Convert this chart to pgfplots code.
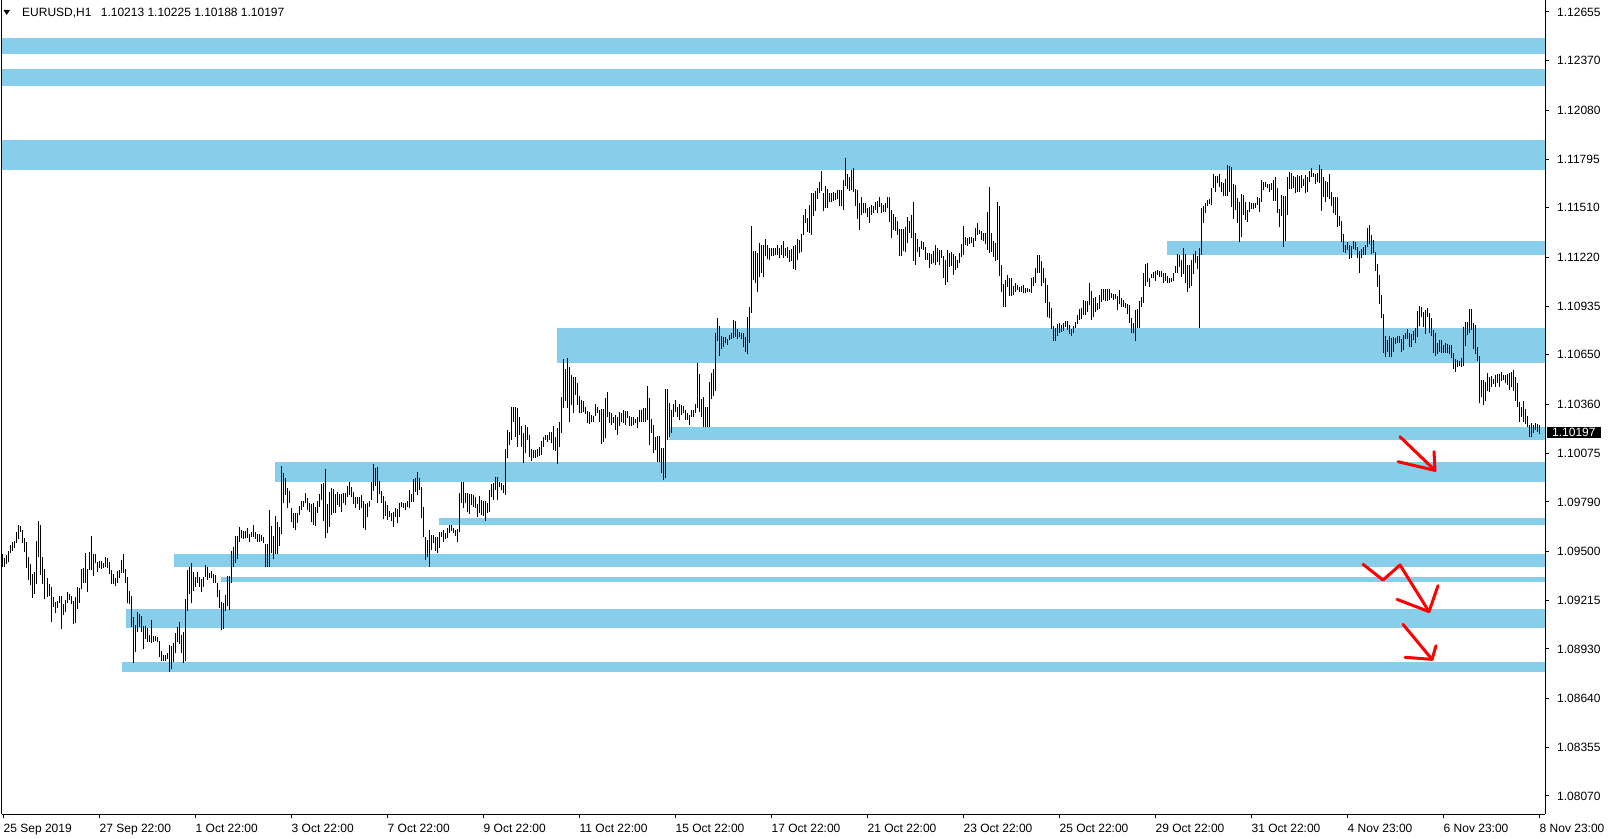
\documentclass[border=0pt]{standalone}
\usepackage{fontspec}
\setmainfont{Liberation Sans}
\usepackage{pgfplots}
\pgfplotsset{compat=1.18}
\usepackage{pgfplotstable}
\definecolor{zone}{RGB}{135,206,235}

\pgfplotstableread{
x hi lo
3 1.09485 1.09411
5 1.09460 1.09411
7 1.09479 1.09427
9 1.09503 1.09436
11 1.09538 1.09489
13 1.09557 1.09503
15 1.09563 1.09518
17 1.09616 1.09551
19 1.09655 1.09573
21 1.09649 1.09616
23 1.09625 1.09547
25 1.09577 1.09499
27 1.09557 1.09405
29 1.09469 1.09333
31 1.09427 1.09302
33 1.09366 1.09230
35 1.09382 1.09251
37 1.09561 1.09310
39 1.09678 1.09469
41 1.09655 1.09362
43 1.09469 1.09310
45 1.09399 1.09220
47 1.09347 1.09235
49 1.09310 1.09239
51 1.09294 1.09087
53 1.09235 1.09177
55 1.09204 1.09138
57 1.09212 1.09171
59 1.09241 1.09196
61 1.09241 1.09048
63 1.09193 1.09128
65 1.09216 1.09148
67 1.09263 1.09200
69 1.09251 1.09216
71 1.09241 1.09191
73 1.09212 1.09074
75 1.09235 1.09079
77 1.09294 1.09165
79 1.09288 1.09200
81 1.09399 1.09278
83 1.09405 1.09317
85 1.09493 1.09317
87 1.09399 1.09265
89 1.09495 1.09391
91 1.09590 1.09391
93 1.09483 1.09356
95 1.09485 1.09430
97 1.09440 1.09382
99 1.09446 1.09401
101 1.09446 1.09397
103 1.09434 1.09401
105 1.09469 1.09411
107 1.09460 1.09405
109 1.09436 1.09366
111 1.09391 1.09310
113 1.09368 1.09310
115 1.09347 1.09298
117 1.09386 1.09313
119 1.09391 1.09343
121 1.09450 1.09376
123 1.09485 1.09372
125 1.09395 1.09313
127 1.09352 1.09196
129 1.09271 1.09194
131 1.09241 1.09060
133 1.09118 1.08849
135 1.09070 1.08914
137 1.09144 1.09031
139 1.09134 1.09056
141 1.09122 1.09031
143 1.09066 1.08931
145 1.09066 1.08988
147 1.09050 1.08968
149 1.09011 1.08972
151 1.09099 1.08966
153 1.09005 1.08972
155 1.09007 1.08978
157 1.09001 1.08970
159 1.08976 1.08884
161 1.08918 1.08861
163 1.08894 1.08861
165 1.08894 1.08861
167 1.08904 1.08873
169 1.08953 1.08793
171 1.08947 1.08812
173 1.08964 1.08851
175 1.09025 1.08904
177 1.09056 1.08970
179 1.09085 1.08959
181 1.09009 1.08908
183 1.09029 1.08849
185 1.09220 1.08859
187 1.09391 1.09154
189 1.09411 1.09251
191 1.09430 1.09196
193 1.09382 1.09269
195 1.09352 1.09294
197 1.09378 1.09313
199 1.09352 1.09294
201 1.09337 1.09265
203 1.09352 1.09294
205 1.09421 1.09349
207 1.09411 1.09333
209 1.09376 1.09343
211 1.09388 1.09343
213 1.09368 1.09317
215 1.09364 1.09317
217 1.09313 1.09235
219 1.09274 1.09167
221 1.09202 1.09040
223 1.09196 1.09046
225 1.09245 1.09154
227 1.09356 1.09183
229 1.09356 1.09157
231 1.09505 1.09313
233 1.09524 1.09411
235 1.09590 1.09434
237 1.09592 1.09456
239 1.09641 1.09557
241 1.09625 1.09577
243 1.09622 1.09573
245 1.09622 1.09577
247 1.09639 1.09581
249 1.09602 1.09557
251 1.09612 1.09586
253 1.09653 1.09586
255 1.09616 1.09575
257 1.09600 1.09557
259 1.09600 1.09557
261 1.09596 1.09561
263 1.09586 1.09551
265 1.09544 1.09411
267 1.09544 1.09411
269 1.09742 1.09411
271 1.09651 1.09489
273 1.09592 1.09454
275 1.09707 1.09487
277 1.09674 1.09483
279 1.09641 1.09532
281 1.10000 1.09600
283 1.09957 1.09781
285 1.09928 1.09830
287 1.09873 1.09756
289 1.09854 1.09781
291 1.09752 1.09674
293 1.09723 1.09639
295 1.09727 1.09625
297 1.09727 1.09668
299 1.09766 1.09713
301 1.09797 1.09742
303 1.09795 1.09762
305 1.09844 1.09781
307 1.09811 1.09742
309 1.09785 1.09733
311 1.09778 1.09672
313 1.09785 1.09655
315 1.09758 1.09649
317 1.09797 1.09727
319 1.09836 1.09762
321 1.09895 1.09801
323 1.09902 1.09678
325 1.09984 1.09577
327 1.09778 1.09610
329 1.09850 1.09645
331 1.09869 1.09713
333 1.09863 1.09723
335 1.09836 1.09723
337 1.09850 1.09772
339 1.09836 1.09762
341 1.09836 1.09733
343 1.09840 1.09781
345 1.09844 1.09772
347 1.09883 1.09817
349 1.09906 1.09830
351 1.09879 1.09820
353 1.09850 1.09776
355 1.09820 1.09752
357 1.09820 1.09778
359 1.09820 1.09742
361 1.09830 1.09752
363 1.09795 1.09635
365 1.09778 1.09625
367 1.09781 1.09703
369 1.09795 1.09762
371 1.09904 1.09801
373 1.10012 1.09856
375 1.09986 1.09885
377 1.09996 1.09781
379 1.09912 1.09836
381 1.09854 1.09785
383 1.09824 1.09688
385 1.09795 1.09707
387 1.09772 1.09684
389 1.09739 1.09703
391 1.09727 1.09678
393 1.09733 1.09645
395 1.09752 1.09703
397 1.09746 1.09664
399 1.09785 1.09703
401 1.09791 1.09762
403 1.09781 1.09752
405 1.09785 1.09742
407 1.09795 1.09762
409 1.09859 1.09752
411 1.09836 1.09787
413 1.09922 1.09791
415 1.09932 1.09850
417 1.09967 1.09830
419 1.09932 1.09859
421 1.09879 1.09694
423 1.09762 1.09586
425 1.09586 1.09450
427 1.09567 1.09469
429 1.09625 1.09411
431 1.09594 1.09508
433 1.09596 1.09547
435 1.09583 1.09505
437 1.09586 1.09489
439 1.09612 1.09518
441 1.09616 1.09586
443 1.09625 1.09557
445 1.09610 1.09571
447 1.09635 1.09577
449 1.09655 1.09606
451 1.09655 1.09620
453 1.09635 1.09606
455 1.09625 1.09592
457 1.09629 1.09557
459 1.09840 1.09612
461 1.09904 1.09781
463 1.09906 1.09752
465 1.09844 1.09781
467 1.09840 1.09729
469 1.09836 1.09719
471 1.09836 1.09772
473 1.09830 1.09762
475 1.09820 1.09752
477 1.09778 1.09703
479 1.09824 1.09723
481 1.09801 1.09713
483 1.09795 1.09707
485 1.09795 1.09680
487 1.09781 1.09723
489 1.09859 1.09733
491 1.09895 1.09820
493 1.09898 1.09801
495 1.09937 1.09859
497 1.09934 1.09801
499 1.09908 1.09879
501 1.09898 1.09859
503 1.09887 1.09840
505 1.10099 1.09830
507 1.10210 1.10045
509 1.10201 1.10123
511 1.10347 1.10152
513 1.10347 1.10259
515 1.10347 1.10171
517 1.10337 1.10113
519 1.10288 1.10181
521 1.10234 1.10113
523 1.10191 1.10019
525 1.10240 1.10074
527 1.10226 1.10152
529 1.10181 1.10054
531 1.10099 1.10031
533 1.10093 1.10045
535 1.10093 1.10045
537 1.10097 1.10054
539 1.10113 1.10058
541 1.10146 1.10064
543 1.10168 1.10113
545 1.10181 1.10152
547 1.10181 1.10142
549 1.10197 1.10152
551 1.10201 1.10132
553 1.10234 1.10093
555 1.10171 1.10088
557 1.10220 1.10010
559 1.10259 1.10109
561 1.10405 1.10195
563 1.10626 1.10339
565 1.10567 1.10380
567 1.10630 1.10337
569 1.10577 1.10259
571 1.10532 1.10357
573 1.10522 1.10312
575 1.10519 1.10415
577 1.10487 1.10357
579 1.10409 1.10308
581 1.10386 1.10308
583 1.10382 1.10318
585 1.10347 1.10304
587 1.10324 1.10249
589 1.10318 1.10246
591 1.10298 1.10259
593 1.10292 1.10259
595 1.10363 1.10292
597 1.10347 1.10308
599 1.10327 1.10259
601 1.10333 1.10129
603 1.10331 1.10142
605 1.10396 1.10162
607 1.10433 1.10288
609 1.10318 1.10253
611 1.10312 1.10240
613 1.10288 1.10249
615 1.10298 1.10210
617 1.10288 1.10181
619 1.10318 1.10234
621 1.10312 1.10259
623 1.10327 1.10249
625 1.10324 1.10240
627 1.10324 1.10279
629 1.10292 1.10234
631 1.10288 1.10234
633 1.10288 1.10240
635 1.10275 1.10249
637 1.10288 1.10220
639 1.10327 1.10259
641 1.10327 1.10259
643 1.10337 1.10259
645 1.10337 1.10259
647 1.10468 1.10269
649 1.10396 1.10123
651 1.10275 1.10191
653 1.10240 1.10074
655 1.10171 1.10093
657 1.10175 1.10025
659 1.10175 1.10025
661 1.10103 1.09956
663 1.10107 1.09917
665 1.10450 1.09927
667 1.10448 1.10151
669 1.10366 1.10171
671 1.10327 1.10190
673 1.10362 1.10288
675 1.10385 1.10317
677 1.10346 1.10288
679 1.10362 1.10268
681 1.10356 1.10298
683 1.10350 1.10307
685 1.10327 1.10268
687 1.10311 1.10268
689 1.10298 1.10239
691 1.10327 1.10288
693 1.10327 1.10288
695 1.10362 1.10307
697 1.10604 1.10337
699 1.10538 1.10317
701 1.10391 1.10288
703 1.10405 1.10226
705 1.10346 1.10229
707 1.10346 1.10229
709 1.10493 1.10229
711 1.10541 1.10389
713 1.10567 1.10409
715 1.10779 1.10440
717 1.10863 1.10733
719 1.10820 1.10645
721 1.10762 1.10684
723 1.10752 1.10697
725 1.10756 1.10717
727 1.10740 1.10707
729 1.10766 1.10736
731 1.10779 1.10740
733 1.10853 1.10746
735 1.10850 1.10756
737 1.10801 1.10742
739 1.10785 1.10752
741 1.10779 1.10742
743 1.10775 1.10697
745 1.10756 1.10668
747 1.10873 1.10653
749 1.10931 1.10721
751 1.11403 1.10896
753 1.11257 1.11087
755 1.11257 1.11068
757 1.11243 1.11019
759 1.11306 1.11103
761 1.11292 1.11126
763 1.11292 1.11107
765 1.11325 1.11228
767 1.11292 1.11208
769 1.11273 1.11204
771 1.11273 1.11228
773 1.11277 1.11228
775 1.11273 1.11234
777 1.11292 1.11234
779 1.11277 1.11214
781 1.11292 1.11234
783 1.11318 1.11214
785 1.11273 1.11228
787 1.11282 1.11214
789 1.11263 1.11195
791 1.11267 1.11201
793 1.11288 1.11150
795 1.11292 1.11146
797 1.11325 1.11204
799 1.11321 1.11247
801 1.11357 1.11253
803 1.11468 1.11351
805 1.11501 1.11423
807 1.11448 1.11370
809 1.11526 1.11364
811 1.11594 1.11351
813 1.11598 1.11462
815 1.11608 1.11493
817 1.11628 1.11561
819 1.11663 1.11594
821 1.11727 1.11608
823 1.11598 1.11491
825 1.11637 1.11511
827 1.11618 1.11511
829 1.11598 1.11546
831 1.11594 1.11546
833 1.11604 1.11550
835 1.11598 1.11555
837 1.11614 1.11559
839 1.11614 1.11520
841 1.11614 1.11520
843 1.11672 1.11497
845 1.11799 1.11637
847 1.11708 1.11618
849 1.11692 1.11608
851 1.11731 1.11614
853 1.11741 1.11600
855 1.11618 1.11520
857 1.11614 1.11444
859 1.11536 1.11380
861 1.11575 1.11468
863 1.11536 1.11477
865 1.11540 1.11477
867 1.11507 1.11454
869 1.11516 1.11423
871 1.11526 1.11468
873 1.11520 1.11477
875 1.11546 1.11497
877 1.11552 1.11477
879 1.11575 1.11516
881 1.11536 1.11477
883 1.11526 1.11487
885 1.11536 1.11487
887 1.11575 1.11507
889 1.11575 1.11425
891 1.11497 1.11331
893 1.11474 1.11380
895 1.11458 1.11376
897 1.11435 1.11351
899 1.11384 1.11228
901 1.11384 1.11228
903 1.11386 1.11257
905 1.11396 1.11253
907 1.11458 1.11302
909 1.11435 1.11364
911 1.11468 1.11331
913 1.11546 1.11199
915 1.11364 1.11175
917 1.11325 1.11253
919 1.11282 1.11224
921 1.11318 1.11267
923 1.11312 1.11263
925 1.11282 1.11204
927 1.11247 1.11204
929 1.11247 1.11156
931 1.11240 1.11179
933 1.11259 1.11185
935 1.11292 1.11175
937 1.11273 1.11195
939 1.11263 1.11175
941 1.11263 1.11214
943 1.11228 1.11101
945 1.11204 1.11058
947 1.11263 1.11074
949 1.11247 1.11165
951 1.11253 1.11171
953 1.11238 1.11117
955 1.11228 1.11146
957 1.11204 1.11156
959 1.11243 1.11185
961 1.11296 1.11224
963 1.11403 1.11234
965 1.11341 1.11292
967 1.11331 1.11286
969 1.11337 1.11298
971 1.11341 1.11302
973 1.11331 1.11282
975 1.11390 1.11318
977 1.11423 1.11351
979 1.11380 1.11357
981 1.11374 1.11321
983 1.11360 1.11318
985 1.11364 1.11296
987 1.11487 1.11263
989 1.11633 1.11243
991 1.11360 1.11253
993 1.11318 1.11224
995 1.11302 1.11201
997 1.11546 1.11204
999 1.11520 1.11111
1001 1.11175 1.11019
1003 1.11064 1.10931
1005 1.11087 1.10931
1007 1.11117 1.11048
1009 1.11101 1.10996
1011 1.11097 1.10996
1013 1.11052 1.11000
1015 1.11072 1.11019
1017 1.11058 1.11029
1019 1.11048 1.11019
1021 1.11052 1.11015
1023 1.11058 1.11009
1025 1.11043 1.11009
1027 1.11043 1.11019
1029 1.11033 1.11015
1031 1.11101 1.11013
1033 1.11107 1.11052
1035 1.11156 1.11068
1037 1.11234 1.11126
1039 1.11234 1.11130
1041 1.11199 1.11052
1043 1.11156 1.11068
1045 1.11097 1.10955
1047 1.11058 1.10873
1049 1.10961 1.10867
1051 1.10926 1.10801
1053 1.10818 1.10733
1055 1.10805 1.10733
1057 1.10828 1.10762
1059 1.10834 1.10775
1061 1.10824 1.10785
1063 1.10834 1.10791
1065 1.10850 1.10814
1067 1.10850 1.10795
1069 1.10824 1.10770
1071 1.10799 1.10762
1073 1.10818 1.10779
1075 1.10844 1.10809
1077 1.10883 1.10828
1079 1.10918 1.10853
1081 1.10922 1.10857
1083 1.10970 1.10883
1085 1.10967 1.10883
1087 1.10967 1.10902
1089 1.11072 1.10941
1091 1.11023 1.10853
1093 1.10980 1.10873
1095 1.10990 1.10902
1097 1.10951 1.10912
1099 1.11000 1.10918
1101 1.11033 1.10961
1103 1.11033 1.10970
1105 1.11033 1.10965
1107 1.11035 1.10965
1109 1.11033 1.10970
1111 1.11013 1.10980
1113 1.11006 1.10970
1115 1.11006 1.10976
1117 1.10994 1.10912
1119 1.11029 1.10947
1121 1.10980 1.10931
1123 1.10970 1.10928
1125 1.10955 1.10922
1127 1.10945 1.10889
1129 1.10941 1.10838
1131 1.10863 1.10775
1133 1.10838 1.10775
1135 1.10912 1.10733
1137 1.10918 1.10809
1139 1.10965 1.10809
1141 1.10990 1.10928
1143 1.11126 1.10951
1145 1.11181 1.11054
1147 1.11185 1.11078
1149 1.11097 1.11048
1151 1.11123 1.11097
1153 1.11136 1.11097
1155 1.11142 1.11084
1157 1.11146 1.11117
1159 1.11142 1.11107
1161 1.11142 1.11103
1163 1.11126 1.11068
1165 1.11126 1.11084
1167 1.11111 1.11068
1169 1.11097 1.11068
1171 1.11101 1.11078
1173 1.11130 1.11084
1175 1.11169 1.11126
1177 1.11240 1.11126
1179 1.11234 1.11165
1181 1.11204 1.11107
1183 1.11273 1.11123
1185 1.11238 1.11072
1187 1.11175 1.11019
1189 1.11175 1.11039
1191 1.11204 1.11052
1193 1.11240 1.11123
1195 1.11257 1.11189
1197 1.11228 1.11150
1199 1.11273 1.10805
1201 1.11511 1.11234
1203 1.11520 1.11423
1205 1.11540 1.11481
1207 1.11555 1.11520
1209 1.11559 1.11532
1211 1.11628 1.11526
1213 1.11706 1.11624
1215 1.11696 1.11604
1217 1.11698 1.11653
1219 1.11708 1.11630
1221 1.11663 1.11604
1223 1.11653 1.11579
1225 1.11676 1.11579
1227 1.11760 1.11579
1229 1.11756 1.11604
1231 1.11747 1.11516
1233 1.11649 1.11442
1235 1.11643 1.11497
1237 1.11565 1.11423
1239 1.11546 1.11312
1241 1.11591 1.11341
1243 1.11585 1.11468
1245 1.11542 1.11438
1247 1.11497 1.11429
1249 1.11542 1.11487
1251 1.11540 1.11501
1253 1.11536 1.11501
1255 1.11540 1.11511
1257 1.11571 1.11526
1259 1.11565 1.11487
1261 1.11672 1.11546
1263 1.11663 1.11614
1265 1.11659 1.11633
1267 1.11649 1.11624
1269 1.11649 1.11604
1271 1.11653 1.11614
1273 1.11672 1.11552
1275 1.11692 1.11552
1277 1.11624 1.11477
1279 1.11501 1.11396
1281 1.11585 1.11462
1283 1.11579 1.11282
1285 1.11581 1.11318
1287 1.11692 1.11468
1289 1.11717 1.11620
1291 1.11715 1.11620
1293 1.11696 1.11624
1295 1.11688 1.11598
1297 1.11702 1.11604
1299 1.11698 1.11604
1301 1.11702 1.11624
1303 1.11678 1.11639
1305 1.11702 1.11594
1307 1.11692 1.11604
1309 1.11725 1.11663
1311 1.11741 1.11692
1313 1.11715 1.11692
1315 1.11706 1.11649
1317 1.11715 1.11663
1319 1.11760 1.11657
1321 1.11737 1.11493
1323 1.11692 1.11575
1325 1.11669 1.11546
1327 1.11663 1.11575
1329 1.11708 1.11559
1331 1.11604 1.11520
1333 1.11571 1.11477
1335 1.11575 1.11468
1337 1.11575 1.11399
1339 1.11462 1.11403
1341 1.11433 1.11312
1343 1.11357 1.11253
1345 1.11292 1.11247
1347 1.11312 1.11263
1349 1.11292 1.11210
1351 1.11286 1.11214
1353 1.11318 1.11267
1355 1.11312 1.11263
1357 1.11282 1.11218
1359 1.11259 1.11130
1361 1.11267 1.11214
1363 1.11282 1.11234
1365 1.11292 1.11234
1367 1.11394 1.11279
1369 1.11409 1.11296
1371 1.11351 1.11240
1373 1.11321 1.11247
1375 1.11253 1.11142
1377 1.11181 1.11048
1379 1.11117 1.10947
1381 1.11000 1.10863
1383 1.10889 1.10662
1385 1.10760 1.10639
1387 1.10736 1.10668
1389 1.10760 1.10639
1391 1.10746 1.10635
1393 1.10756 1.10668
1395 1.10746 1.10713
1397 1.10760 1.10721
1399 1.10760 1.10717
1401 1.10742 1.10668
1403 1.10766 1.10678
1405 1.10779 1.10740
1407 1.10801 1.10740
1409 1.10775 1.10697
1411 1.10770 1.10694
1413 1.10789 1.10736
1415 1.10809 1.10721
1417 1.10908 1.10752
1419 1.10935 1.10818
1421 1.10928 1.10869
1423 1.10902 1.10811
1425 1.10912 1.10772
1427 1.10922 1.10873
1429 1.10892 1.10779
1431 1.10863 1.10760
1433 1.10795 1.10662
1435 1.10775 1.10645
1437 1.10721 1.10655
1439 1.10736 1.10668
1441 1.10736 1.10658
1443 1.10707 1.10662
1445 1.10721 1.10658
1447 1.10713 1.10658
1449 1.10707 1.10653
1451 1.10707 1.10629
1453 1.10662 1.10567
1455 1.10623 1.10551
1457 1.10619 1.10580
1459 1.10616 1.10584
1461 1.10633 1.10580
1463 1.10814 1.10584
1465 1.10844 1.10703
1467 1.10840 1.10766
1469 1.10916 1.10775
1471 1.10916 1.10795
1473 1.10834 1.10684
1475 1.10824 1.10655
1477 1.10697 1.10616
1479 1.10643 1.10366
1481 1.10502 1.10405
1483 1.10502 1.10356
1485 1.10489 1.10382
1487 1.10541 1.10440
1489 1.10518 1.10434
1491 1.10526 1.10463
1493 1.10506 1.10479
1495 1.10532 1.10463
1497 1.10538 1.10487
1499 1.10538 1.10463
1501 1.10551 1.10499
1503 1.10532 1.10502
1505 1.10532 1.10483
1507 1.10538 1.10473
1509 1.10545 1.10444
1511 1.10551 1.10460
1513 1.10561 1.10440
1515 1.10522 1.10382
1517 1.10487 1.10343
1519 1.10376 1.10259
1521 1.10346 1.10288
1523 1.10382 1.10259
1525 1.10331 1.10245
1527 1.10292 1.10229
1529 1.10239 1.10171
1531 1.10249 1.10167
1533 1.10239 1.10190
1535 1.10249 1.10210
1537 1.10245 1.10200
1539 1.10239 1.10187
}\bars

\begin{document}
\begin{tikzpicture}
\useasboundingbox (0,0) rectangle (1609pt,838pt);
\begin{axis}[
  at={(2pt,24pt)}, anchor=south west,
  scale only axis, width=1543pt, height=814pt,
  xmin=2, xmax=1545, ymin=1.079647, ymax=1.12725,
  separate axis lines,
  axis x line=bottom, axis y line=box,
  axis line style={-, line width=1pt, black},
  tick align=outside, major tick length=4pt,
  tick style={black, line width=1pt},
  ytick pos=right, yticklabel pos=right,
  xtick={3.5,99.5,195.5,291.5,387.5,483.5,579.5,675.5,771.5,867.5,963.5,1059.5,1155.5,1251.5,1347.5,1443.5,1539.5},
  xticklabels={25 Sep 2019,27 Sep 22:00,1 Oct 22:00,3 Oct 22:00,7 Oct 22:00,9 Oct 22:00,11 Oct 22:00,15 Oct 22:00,17 Oct 22:00,21 Oct 22:00,23 Oct 22:00,25 Oct 22:00,29 Oct 22:00,31 Oct 22:00,4 Nov 23:00,6 Nov 23:00,8 Nov 23:00},
  ytick={1.08070,1.08355,1.08640,1.08930,1.09215,1.09500,1.09790,1.10075,1.10360,1.10650,1.10935,1.11220,1.11510,1.11795,1.12080,1.12370,1.12655},
  yticklabels={1.08070,1.08355,1.08640,1.08930,1.09215,1.09500,1.09790,1.10075,1.10360,1.10650,1.10935,1.11220,1.11510,1.11795,1.12080,1.12370,1.12655},
  tick label style={font=\fontsize{12pt}{14pt}\selectfont},
  xticklabel style={anchor=north west, inner sep=0pt, yshift=-6pt},
  yticklabel style={anchor=west, inner sep=0pt, xshift=8pt},
  extra y ticks={1.10197}, extra y tick labels={1.10197},
  extra y tick style={major tick length=0pt,
    yticklabel style={fill=black, text=white, inner xsep=5pt, inner ysep=1.5pt, xshift=-6pt}},
]
% support / resistance zones
\addplot[fill=zone, draw=none] coordinates {(2,1.12503) (1545,1.12503) (1545,1.12409) (2,1.12409)} -- cycle;
\addplot[fill=zone, draw=none] coordinates {(2,1.12322) (1545,1.12322) (1545,1.12222) (2,1.12222)} -- cycle;
\addplot[fill=zone, draw=none] coordinates {(2,1.11906) (1545,1.11906) (1545,1.11731) (2,1.11731)} -- cycle;
\addplot[fill=zone, draw=none] coordinates {(1167,1.11316) (1545,1.11316) (1545,1.11234) (1167,1.11234)} -- cycle;
\addplot[fill=zone, draw=none] coordinates {(557,1.10807) (1545,1.10807) (1545,1.10602) (557,1.10602)} -- cycle;
\addplot[fill=zone, draw=none] coordinates {(669,1.10228) (1545,1.10228) (1545,1.10152) (669,1.10152)} -- cycle;
\addplot[fill=zone, draw=none] coordinates {(275,1.10023) (1545,1.10023) (1545,1.09906) (275,1.09906)} -- cycle;
\addplot[fill=zone, draw=none] coordinates {(439,1.09696) (1545,1.09696) (1545,1.09655) (439,1.09655)} -- cycle;
\addplot[fill=zone, draw=none] coordinates {(174,1.09485) (1545,1.09485) (1545,1.09409) (174,1.09409)} -- cycle;
\addplot[fill=zone, draw=none] coordinates {(221,1.09351) (1545,1.09351) (1545,1.09322) (221,1.09322)} -- cycle;
\addplot[fill=zone, draw=none] coordinates {(126,1.09164) (1545,1.09164) (1545,1.09053) (126,1.09053)} -- cycle;
\addplot[fill=zone, draw=none] coordinates {(122,1.08854) (1545,1.08854) (1545,1.08795) (122,1.08795)} -- cycle;
% H1 bars (high-low)
\addplot[only marks, mark=*, mark size=0pt, mark options={draw=none, fill=none},
  error bars/.cd, y dir=plus, y explicit, error mark=none,
  error bar style={draw=black, solid, line width=1pt}]
  table[x=x, y=lo, y error expr=\thisrow{hi}-\thisrow{lo}] {\bars};
% red arrows
\addplot[red, line width=3pt, line cap=round, line join=round] coordinates {(1400,1.10171) (1435,1.09974)};
\addplot[red, line width=3pt, line cap=round, line join=round] coordinates {(1398,1.10025) (1435,1.09974) (1434,1.10084)};
\addplot[red, line width=3pt, line cap=round, line join=round] coordinates {(1363,1.09425) (1383,1.09333) (1400,1.09421) (1429,1.09148)};
\addplot[red, line width=3pt, line cap=round, line join=round] coordinates {(1397,1.09220) (1429,1.09148) (1438,1.09300)};
\addplot[red, line width=3pt, line cap=round, line join=round] coordinates {(1403,1.09074) (1432,1.08869)};
\addplot[red, line width=3pt, line cap=round, line join=round] coordinates {(1405,1.08881) (1432,1.08869) (1436,1.08949)};
\end{axis}
\fill (3.5pt,828pt) -- (10pt,828pt) -- (6.75pt,823pt) -- cycle;
\node[anchor=base west, inner sep=0pt, font=\fontsize{12pt}{14pt}\selectfont] at (22pt,821pt) {EURUSD,H1\hspace{6pt} 1.10213 1.10225 1.10188 1.10197};
\end{tikzpicture}
\end{document}
